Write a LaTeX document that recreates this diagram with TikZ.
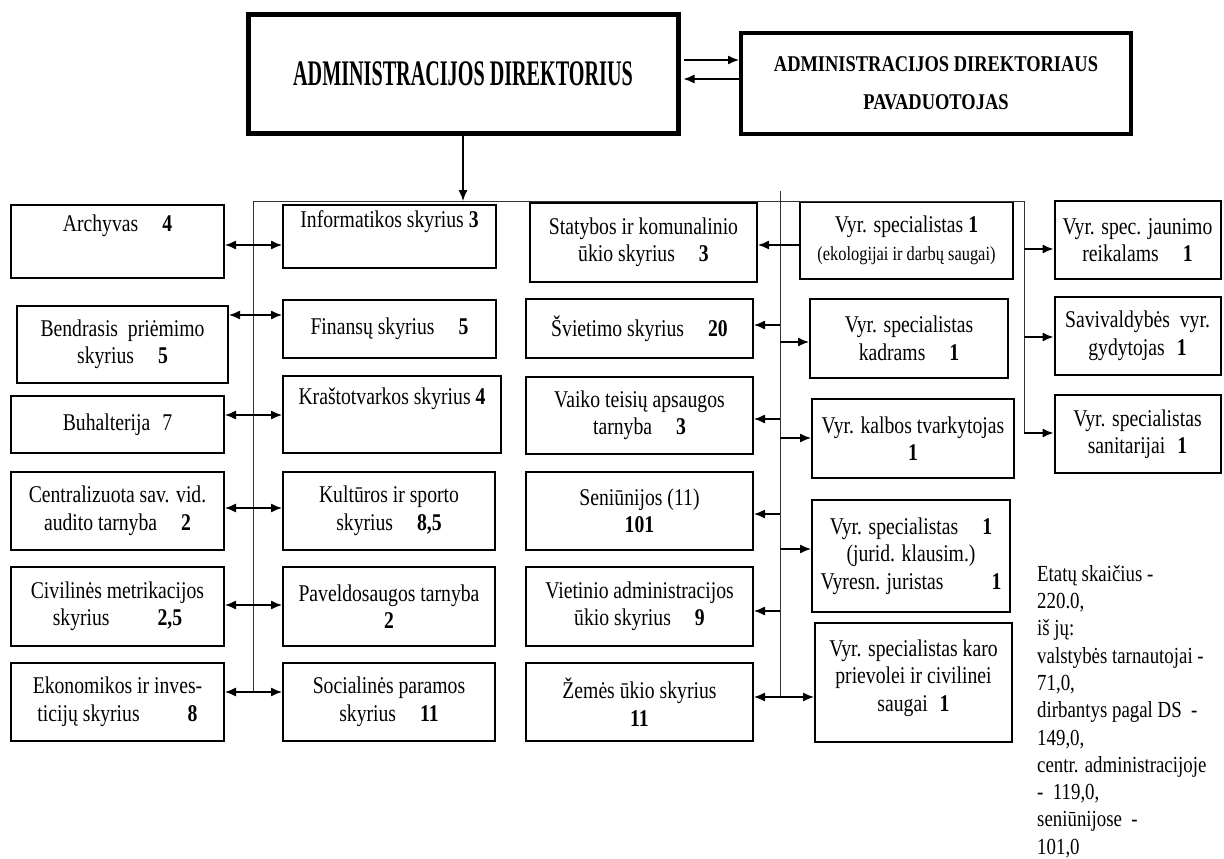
\documentclass[tikz,border=0pt]{standalone}
\usepackage{fontspec}
\setmainfont{Liberation Serif}[FakeStretch=0.82]
\newfontfamily\headfont{Liberation Serif}[FakeStretch=0.56]
\usepackage{tikz}
\usetikzlibrary{arrows.meta}
\tikzstyle{boss} = [rectangle, draw=black, line width=5pt, minimum width=430, minimum height=118, align=center, font=\headfont\bfseries\fontsize{36}{40}\selectfont]
\tikzstyle{deputy} = [rectangle, draw=black, line width=4pt, minimum width=390, minimum height=100, align=center, font=\bfseries\fontsize{22.5}{38}\selectfont]
\tikzstyle{unit} = [rectangle, draw=black, line width=2pt, inner sep=2pt, align=center, font=\fontsize{24}{27.5}\selectfont]
\tikzstyle{note} = [inner sep=0pt, align=left, font=\fontsize{23}{27.3}\selectfont]
\tikzstyle{bus} = [line width=1pt, draw=black!80]
\tikzstyle{arrow} = [line width=1.3pt, -{Latex[length=11pt,width=9pt]}]
\tikzstyle{twoway} = [line width=1.3pt, {Latex[length=11pt,width=9pt]}-{Latex[length=11pt,width=9pt]}]
\newcommand{\sm}[1]{{\fontsize{20}{27.5}\selectfont #1}}

\begin{document}
\begin{tikzpicture}[x=1pt,y=-1pt]
	\useasboundingbox (0,0) rectangle (1224,859);
	
	\node (dir) [boss] at (463,74) {ADMINISTRACIJOS DIREKTORIUS};
	\node (dep) [deputy] at (936,83.5) {ADMINISTRACIJOS DIREKTORIAUS\\PAVADUOTOJAS};
	
	\coordinate (t1) at ([xshift=3pt,yshift=14pt]dir.east);
	\coordinate (t2) at ([xshift=3pt,yshift=-5pt]dir.east);
	\draw [arrow] (t1) -- (t1 -| dep.west);
	\draw [arrow] (t2 -| dep.west) -- (t2);
	
	% first column
	\node (arch) [unit, minimum width=213, minimum height=73] at (117.5,241.5) {Archyvas\quad\textbf{4}\\\strut};
	\node (bendr) [unit, minimum width=211, minimum height=77] at (122.5,344.5) {Bendrasis\ \ priėmimo\\skyrius\quad\textbf{5}};
	\node (buh) [unit, minimum width=213, minimum height=57] at (117.5,424.5) {Buhalterija\enspace 7};
	\node (audit) [unit, minimum width=213, minimum height=78] at (117.5,511) {Centralizuota sav. vid.\\audito tarnyba\quad\textbf{2}};
	\node (metr) [unit, minimum width=213, minimum height=79] at (117.5,606.5) {Civilinės metrikacijos\\skyrius\qquad\textbf{2,5}};
	\node (ekon) [unit, minimum width=213, minimum height=78] at (117.5,702) {Ekonomikos ir inves-\\ticijų skyrius\qquad\textbf{8}};
	
	% second column
	\node (inf) [unit, minimum width=213, minimum height=63] at (389.5,236.5) {Informatikos skyrius \textbf{3}\\\strut};
	\node (fin) [unit, minimum width=213, minimum height=58] at (389.5,329) {Finansų skyrius\quad\textbf{5}};
	\node (krast) [unit, minimum width=218, minimum height=77] at (392,414.5) {Kraštotvarkos skyrius \textbf{4}\\\strut};
	\node (kult) [unit, minimum width=212, minimum height=78] at (389,511) {Kultūros ir sporto\\skyrius\quad\textbf{8,5}};
	\node (pav) [unit, minimum width=212, minimum height=79] at (389,606.5) {Paveldosaugos tarnyba\\\textbf{2}};
	\node (soc) [unit, minimum width=212, minimum height=78] at (389,702) {Socialinės paramos\\skyrius\quad\textbf{11}};
	
	% third column
	\node (stat) [unit, minimum width=227, minimum height=79] at (643.5,242.5) {Statybos ir komunalinio\\ūkio skyrius\quad\textbf{3}};
	\node (svi) [unit, minimum width=227, minimum height=59] at (639.5,328.5) {Švietimo skyrius\quad\textbf{20}};
	\node (vaik) [unit, minimum width=227, minimum height=77] at (639.5,415.5) {Vaiko teisių apsaugos\\tarnyba\quad\textbf{3}};
	\node (sen) [unit, minimum width=227, minimum height=78] at (639.5,511) {Seniūnijos (11)\\\textbf{101}};
	\node (viet) [unit, minimum width=227, minimum height=79] at (639.5,606.5) {Vietinio administracijos\\ūkio skyrius\quad\textbf{9}};
	\node (zem) [unit, minimum width=227, minimum height=78] at (639.5,702) {Žemės ūkio skyrius\\\textbf{11}};
	
	% fourth column
	\node (ekol) [unit, minimum width=213, minimum height=77] at (906.5,240.5) {Vyr. specialistas \textbf{1}\\\sm{(ekologijai ir darbų saugai)}};
	\node (kadr) [unit, minimum width=198, minimum height=79] at (909,338.5) {Vyr. specialistas\\kadrams\quad\textbf{1}};
	\node (kalb) [unit, minimum width=202, minimum height=79] at (913,438.5) {Vyr. kalbos tvarkytojas\\\textbf{1}};
	\node (jur) [unit, minimum width=198, minimum height=112] at (911,556) {Vyr. specialistas\quad\textbf{1}\\(jurid. klausim.)\\Vyresn. juristas\qquad\textbf{1}};
	\node (karo) [unit, minimum width=197, minimum height=119] at (913.5,682.5) {Vyr. specialistas karo\\prievolei ir civilinei\\saugai\enspace\textbf{1}\\[-13.5pt]};
	
	% fifth column
	\node (jaun) [unit, minimum width=166, minimum height=78] at (1137.5,240) {Vyr. spec. jaunimo\\reikalams\quad\textbf{1}};
	\node (gyd) [unit, minimum width=166, minimum height=78] at (1137.5,336) {Savivaldybės\ \ vyr.\\gydytojas\enspace\textbf{1}};
	\node (san) [unit, minimum width=166, minimum height=78] at (1137.5,434) {Vyr. specialistas\\sanitarijai\enspace\textbf{1}};
	
	\node (etat) [note, anchor=north west] at (1037,565) {Etatų skaičius -\\220.0,\\iš jų:\\valstybės tarnautojai -\\71,0,\\dirbantys pagal DS\ \ -\\149,0,\\centr. administracijoje\\-\ \ 119,0,\\seniūnijose\ \ -\\101,0};
	
	% buses
	\coordinate (busL) at (253,201);
	\coordinate (busR) at (1024,201);
	\coordinate (lowL) at (253,692);
	\coordinate (midT) at (780,191);
	\coordinate (midB) at (780,697);
	\coordinate (lowR) at (1024,433);
	
	\draw [arrow] (dir.south) -- (dir.south |- busL);
	\draw [bus] (lowL) -- (busL) -- (busR) -- (lowR);
	\draw [bus] (midT) -- (midB);
	
	% left rows
	\coordinate (l1) at (253,245);
	\coordinate (l2) at (253,315);
	\coordinate (l3) at (253,415);
	\coordinate (l4) at (253,508);
	\coordinate (l5) at (253,605);
	\draw [twoway] (l1 -| arch.east) -- (l1 -| inf.west);
	\draw [twoway] (l2 -| bendr.east) -- (l2 -| fin.west);
	\draw [twoway] (l3 -| buh.east) -- (l3 -| krast.west);
	\draw [twoway] (l4 -| audit.east) -- (l4 -| kult.west);
	\draw [twoway] (l5 -| metr.east) -- (l5 -| pav.west);
	\draw [twoway] (lowL -| ekon.east) -- (lowL -| soc.west);
	
	% middle rows
	\coordinate (m1) at (780,245);
	\coordinate (m2) at (780,325);
	\coordinate (m3) at (780,419);
	\coordinate (m4) at (780,514);
	\coordinate (m5) at (780,611);
	\draw [arrow] (m1 -| ekol.west) -- (m1 -| stat.east);
	\draw [arrow] (m2) -- (m2 -| svi.east);
	\draw [arrow] (m3) -- (m3 -| vaik.east);
	\draw [arrow] (m4) -- (m4 -| sen.east);
	\draw [arrow] (m5) -- (m5 -| viet.east);
	\draw [twoway] (midB -| zem.east) -- (midB -| karo.west);
	
	\coordinate (r1) at (780,342);
	\coordinate (r2) at (780,438);
	\coordinate (r3) at (780,549);
	\draw [arrow] (r1) -- (r1 -| kadr.west);
	\draw [arrow] (r2) -- (r2 -| kalb.west);
	\draw [arrow] (r3) -- (r3 -| jur.west);
	
	% right rows
	\coordinate (s1) at (1024,249);
	\coordinate (s2) at (1024,337);
	\draw [arrow] (s1) -- (s1 -| jaun.west);
	\draw [arrow] (s2) -- (s2 -| gyd.west);
	\draw [arrow] (lowR) -- (lowR -| san.west);
	
\end{tikzpicture}
\end{document}
